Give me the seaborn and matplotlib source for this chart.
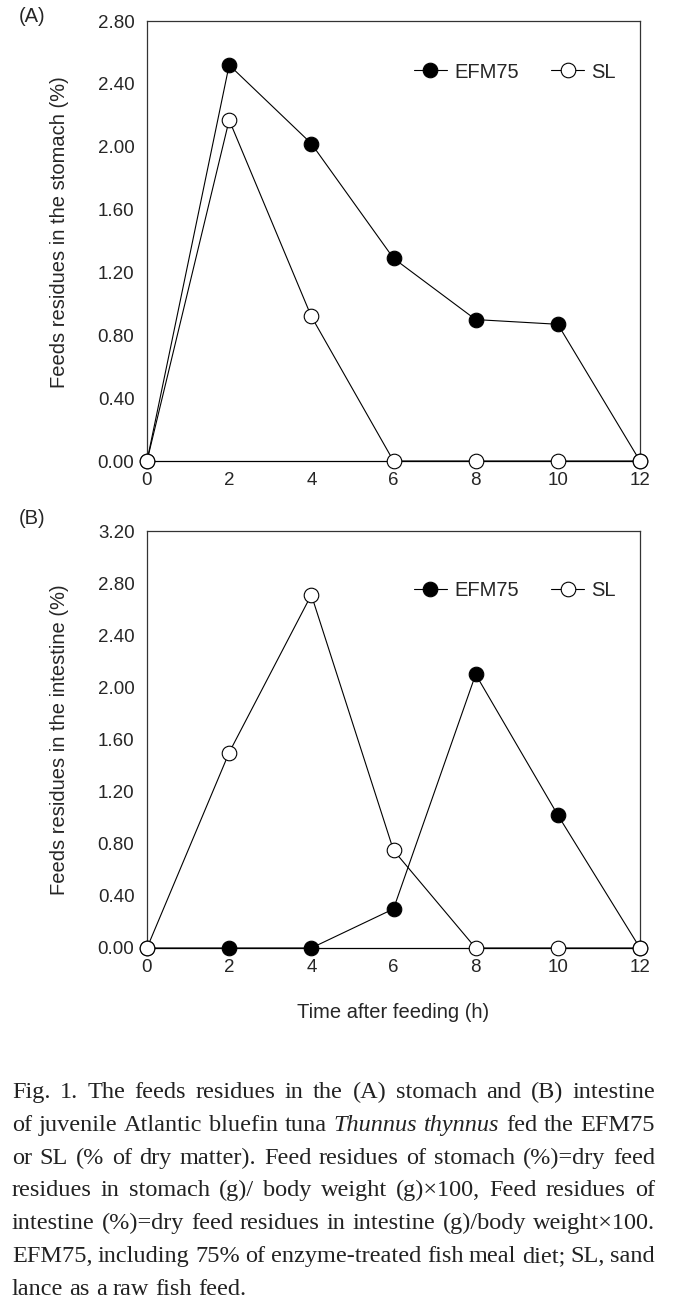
import numpy as np
import pandas as pd
import matplotlib
matplotlib.use("Agg")
import matplotlib.pyplot as plt
import seaborn as sns

# values
hours = [0, 2, 4, 6, 8, 10, 12]
stomach_efm75 = [0, 2.52, 2.02, 1.29, 0.90, 0.87, 0]
stomach_sl = [0, 2.17, 0.92, 0, 0, 0, 0]
intestine_efm75 = [0, 0, 0, 0.30, 2.10, 1.02, 0]
intestine_sl = [0, 1.50, 2.71, 0.75, 0, 0, 0]

stomach_ticks = [0, 0.4, 0.8, 1.2, 1.6, 2.0, 2.4, 2.8]
intestine_ticks = [0, 0.4, 0.8, 1.2, 1.6, 2.0, 2.4, 2.8, 3.2]
hour_ticks = [0, 2, 4, 6, 8, 10, 12]

caption_lines = [
    "Fig. 1. The feeds residues in the (A) stomach and (B) intestine",
    "of juvenile Atlantic bluefin tuna Thunnus thynnus fed the EFM75",
    "or SL (% of dry matter). Feed residues of stomach (%)=dry feed",
    "residues in stomach (g)/ body weight (g)\u00d7100, Feed residues of",
    "intestine (%)=dry feed residues in intestine (g)/body weight\u00d7100.",
    "EFM75, including 75% of enzyme-treated fish meal diet; SL, sand",
    "lance as a raw fish feed.",
]
italic_words = {"Thunnus", "thynnus"}

sns.set_style("white")
plt.rcParams["font.family"] = ["Liberation Sans", "DejaVu Sans"]

W, H = 678, 1309
fig = plt.figure(figsize=(W / 100, H / 100), dpi=100)


def px_axes(left, top, right, bottom):
    return fig.add_axes([left / W, 1 - bottom / H, (right - left) / W, (bottom - top) / H])


ax_a = px_axes(147, 21, 640, 461)
ax_b = px_axes(147, 531, 640, 948)


def draw_panel(ax, efm, sl, yticks, ylabel, leg_y, ylab_y):
    df = pd.DataFrame({"h": hours, "efm": efm, "sl": sl})
    sns.lineplot(data=df, x="h", y="efm", ax=ax, color="black", lw=0.8,
                 marker="o", ms=10.5, mfc="black", mec="black", mew=0.8,
                 label="EFM75", clip_on=False, zorder=3)
    sns.lineplot(data=df, x="h", y="sl", ax=ax, color="black", lw=0.8,
                 marker="o", ms=10.5, mfc="white", mec="black", mew=0.8,
                 label="SL", clip_on=False, zorder=4)
    ax.set_xlim(0, 12)
    ax.set_ylim(0, yticks[-1])
    ax.set_xticks(hour_ticks)
    ax.set_yticks(yticks)
    ax.set_yticklabels([f"{v:.2f}" for v in yticks])
    ax.tick_params(axis="x", direction="in", length=5, width=0.8, pad=8,
                   labelsize=13.5, color="black")
    ax.tick_params(axis="y", length=0, pad=9, labelsize=13.5)
    for s in ax.spines.values():
        s.set_color("#333333")
        s.set_linewidth(0.9)
    ax.spines["bottom"].set_color("black")
    ax.set_xlabel("")
    ax.set_ylabel(ylabel, fontsize=14.5)
    ax.yaxis.set_label_coords(-0.158, ylab_y)
    ax.legend(ncol=2, frameon=False, loc="center", bbox_to_anchor=(0.746, leg_y),
              fontsize=14.5, handlelength=1.65, handletextpad=0.35,
              columnspacing=1.6, borderpad=0, borderaxespad=0)


draw_panel(ax_a, stomach_efm75, stomach_sl, stomach_ticks,
           "Feeds residues in the stomach (%)", 0.884, 0.52)
draw_panel(ax_b, intestine_efm75, intestine_sl, intestine_ticks,
           "Feeds residues in the intestine (%)", 0.857, 0.5)

fig.text(32 / W, 1 - 17 / H, "(A)", fontsize=14.5, ha="center", va="center")
fig.text(32 / W, 1 - 518 / H, "(B)", fontsize=14.5, ha="center", va="center")
fig.text(393 / W, 1 - 1013 / H, "Time after feeding (h)", fontsize=14.5,
         ha="center", va="center")

# caption, justified word by word
renderer = fig.canvas.get_renderer()
cap_left, cap_right = 12, 655
cap_size = 17.5
serif = ["Liberation Serif", "DejaVu Serif"]
probe1 = fig.text(0, 0, "a a", fontsize=cap_size, family=serif)
probe2 = fig.text(0, 0, "aa", fontsize=cap_size, family=serif)
sp = probe1.get_window_extent(renderer).width - probe2.get_window_extent(renderer).width
probe1.remove()
probe2.remove()

for i, line in enumerate(caption_lines):
    y = 1 - (1098 + i * 32.8) / H
    words = line.split(" ")
    texts = []
    for w in words:
        style = "italic" if w in italic_words else "normal"
        t = fig.text(0, y, w, fontsize=cap_size, family=serif,
                     style=style, ha="left", va="baseline", color="#222222")
        texts.append(t)
    widths = [t.get_window_extent(renderer).width for t in texts]
    if i < len(caption_lines) - 1:
        gap = (cap_right - cap_left - sum(widths)) / (len(words) - 1)
    else:
        gap = sp
    x = cap_left
    for t, wd in zip(texts, widths):
        t.set_x(x / W)
        x += wd + gap

fig.savefig("out.png", dpi=100)
